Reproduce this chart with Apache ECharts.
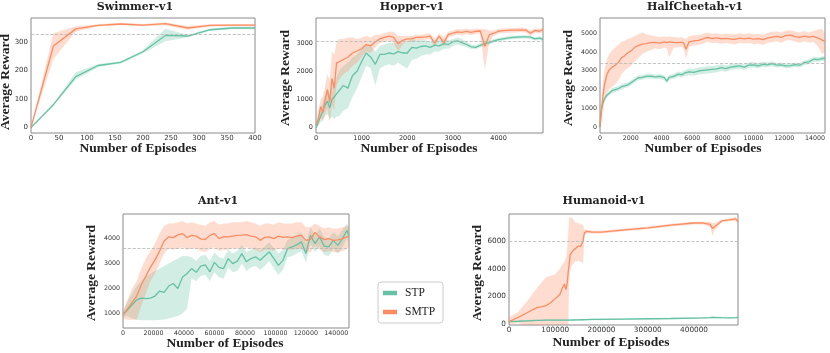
<!DOCTYPE html>
<html>
<head>
<meta charset="utf-8">
<script src="https://cdn.jsdelivr.net/npm/echarts@6/dist/echarts.min.js"></script>
<style>
  html, body { margin: 0; padding: 0; background: #fff; }
  #chart { width: 830px; height: 353px; }
</style>
</head>
<body>
<div id="chart"></div>
<script>
const COLORS = { STP: '#66c2a5', SMTP: '#fc8d62' };
const SERIES_NAMES = ['STP', 'SMTP'];

// Swimmer-v1
const swimmerX = [0, 40, 80, 120, 160, 200, 240, 280, 320, 360, 400];
const swimmerStp = [0, 80, 178, 217, 228, 265, 322, 320, 342, 348, 348];
const swimmerStpLo = [0, 77, 168, 212, 224, 260, 302, 316, 338, 344, 344];
const swimmerStpHi = [0, 83, 193, 222, 232, 270, 345, 324, 346, 352, 352];
const swimmerSmtp = [0, 285, 345, 357, 362, 358, 363, 348, 357, 358, 358];
const swimmerSmtpLo = [0, 240, 336, 353, 358, 354, 358, 342, 353, 354, 354];
const swimmerSmtpHi = [0, 330, 354, 361, 366, 362, 367, 355, 361, 362, 362];
const swimmerRef = 325;
const swimmerXTicks = [0, 50, 100, 150, 200, 250, 300, 350, 400];
const swimmerYTicks = [0, 100, 200, 300];

// Hopper-v1
const hopperX = [0, 50, 100, 150, 200, 250, 300, 350, 400, 450, 500, 600, 700, 800, 900,
  1000, 1100, 1200, 1300, 1400, 1500, 1600, 1700, 1800, 1900, 2000, 2100, 2200, 2300, 2400,
  2500, 2600, 2700, 2800, 2900, 3000, 3100, 3200, 3300, 3400, 3500, 3600, 3700, 3800, 3900,
  4000, 4100, 4200, 4300, 4400, 4500, 4600, 4700, 4800, 4900, 4975];
const hopperStp = [0, 200, 400, 600, 800, 950, 700, 1000, 1100, 1200, 1300, 1500, 1400, 1850, 2000,
  2350, 2650, 2500, 2250, 2600, 2600, 2650, 2620, 2700, 2650, 2650, 2850, 2820, 2880, 2900,
  2850, 2930, 2900, 2980, 2950, 3050, 3080, 3020, 2950, 2870, 2850, 2920, 2980, 3020, 3080,
  3120, 3150, 3180, 3200, 3210, 3220, 3220, 3210, 3150, 3180, 3130];
const hopperStpLo = [0, 50, 200, 300, 400, 500, 300, 400, 300, 400, 400, 600, 700, 1100, 1400,
  1800, 2200, 2100, 1500, 2100, 2200, 2250, 2200, 2300, 2200, 2100, 2400, 2450, 2550, 2600,
  2600, 2700, 2700, 2800, 2800, 2900, 2950, 2900, 2850, 2800, 2780, 2850, 2900, 2950, 3010,
  3060, 3090, 3120, 3140, 3150, 3160, 3160, 3150, 3090, 3120, 3070];
const hopperStpHi = [100, 400, 700, 900, 1200, 1400, 1200, 1500, 1600, 1800, 2000, 2200, 2300, 2500, 2600,
  2800, 2950, 2900, 2700, 2900, 2950, 3000, 3000, 3050, 3000, 3050, 3150, 3100, 3100, 3100,
  3050, 3100, 3100, 3150, 3100, 3150, 3200, 3150, 3050, 2950, 2920, 3000, 3050, 3100, 3150,
  3180, 3210, 3240, 3260, 3270, 3280, 3280, 3270, 3210, 3240, 3190];
const hopperSmtp = [100, 300, 750, 550, 1000, 1350, 900, 1750, 1400, 2300, 2330, 2420, 2500, 2650, 2720,
  2800, 2950, 2900, 3050, 3150, 3200, 3250, 3200, 2980, 3100, 3150, 3150, 3200, 3200, 3220,
  3250, 3000, 3250, 3020, 3300, 3350, 3400, 3380, 3420, 3380, 3420, 3430, 2880, 3300, 3350,
  3420, 3440, 3450, 3460, 3460, 3470, 3460, 3350, 3450, 3420, 3480];
const hopperSmtpLo = [0, 100, 400, 200, 500, 700, 200, 800, 600, 1500, 1700, 1900, 2000, 2200, 2300,
  2500, 2700, 2650, 2850, 3000, 3050, 3100, 3000, 2700, 2950, 3050, 3050, 3100, 3100, 3120,
  3150, 2850, 3150, 2850, 3200, 3250, 3300, 3280, 3320, 3280, 3320, 3350, 2050, 3050, 3250,
  3340, 3360, 3370, 3380, 3380, 3390, 3380, 3250, 3370, 3340, 3400];
const hopperSmtpHi = [200, 600, 1000, 1100, 1500, 1900, 1700, 2700, 2600, 3000, 3150, 3150, 3200, 3200, 3150,
  3200, 3250, 3200, 3300, 3300, 3350, 3400, 3400, 3250, 3250, 3250, 3250, 3300, 3300, 3320,
  3350, 3150, 3350, 3200, 3400, 3450, 3500, 3480, 3520, 3480, 3520, 3500, 3500, 3450, 3450,
  3500, 3520, 3530, 3540, 3540, 3550, 3540, 3450, 3530, 3500, 3560];
const hopperRef = 3070;
const hopperXTicks = [0, 1000, 2000, 3000, 4000];
const hopperYTicks = [0, 1000, 2000, 3000];

// HalfCheetah-v1
const cheetahX = [0, 50, 100, 200, 300, 450, 600, 800, 1000, 1200,
  1400, 1600, 1800, 2000, 2250, 2500, 2750, 3000, 3300, 3600,
  3900, 4200, 4350, 4500, 4800, 5100, 5300, 5450, 5600, 5800,
  6100, 6400, 6700, 7000, 7300, 7600, 7900, 8200, 8500, 8800,
  9100, 9400, 9700, 10000, 10300, 10600, 10900, 11200, 11500, 11800,
  12100, 12400, 12700, 13000, 13300, 13600, 13900, 14200, 14450, 14650];
const cheetahStp = [0, 700, 1000, 1300, 1500, 1700, 1800, 1950, 2000, 2050,
  2150, 2200, 2250, 2350, 2500, 2630, 2650, 2700, 2720, 2680,
  2700, 2630, 2450, 2650, 2700, 2820, 2780, 2850, 2900, 2940,
  2920, 2990, 3020, 3050, 3080, 3100, 3170, 3120, 3200, 3230,
  3260, 3200, 3300, 3320, 3270, 3350, 3320, 3380, 3300, 3320,
  3260, 3280, 3330, 3300, 3440, 3480, 3620, 3600, 3650, 3670];
const cheetahStpLo = [0, 500, 850, 1150, 1380, 1580, 1680, 1820, 1870, 1920,
  2020, 2070, 2120, 2220, 2370, 2500, 2520, 2570, 2590, 2550,
  2570, 2500, 2320, 2520, 2570, 2680, 2640, 2700, 2730, 2760,
  2740, 2800, 2830, 2860, 2890, 2920, 2990, 2950, 3040, 3080,
  3110, 3060, 3160, 3180, 3140, 3220, 3190, 3250, 3180, 3200,
  3140, 3160, 3210, 3180, 3310, 3350, 3490, 3470, 3520, 3540];
const cheetahStpHi = [0, 900, 1150, 1450, 1620, 1820, 1920, 2080, 2130, 2180,
  2280, 2330, 2380, 2480, 2630, 2760, 2780, 2830, 2850, 2810,
  2830, 2760, 2580, 2780, 2830, 2960, 2920, 3000, 3070, 3120,
  3100, 3180, 3210, 3240, 3270, 3280, 3350, 3290, 3360, 3380,
  3410, 3340, 3440, 3460, 3400, 3480, 3450, 3510, 3420, 3440,
  3380, 3400, 3450, 3420, 3570, 3610, 3750, 3730, 3780, 3800];
const cheetahSmtp = [0, 500, 900, 1700, 2300, 2800, 3050, 3200, 3300, 3450,
  3700, 3800, 3950, 4050, 4250, 4350, 4430, 4450, 4500, 4520,
  4480, 4550, 4500, 4550, 4520, 4500, 4530, 4480, 4150, 4550,
  4600, 4620, 4700, 4790, 4720, 4760, 4700, 4730, 4700, 4680,
  4750, 4710, 4740, 4690, 4720, 4660, 4750, 4800, 4840, 4780,
  4890, 4910, 4820, 4790, 4850, 4800, 4840, 4750, 4650, 4550];
const cheetahSmtpLo = [0, 100, 300, 800, 1400, 1800, 2000, 2150, 2300, 2500,
  2800, 3000, 3150, 3250, 3500, 3700, 3900, 4000, 4100, 4200,
  4150, 4250, 4200, 3700, 4250, 4250, 4280, 4200, 3600, 4300,
  4350, 4380, 4450, 4550, 4480, 4500, 4450, 4480, 4450, 4400,
  4500, 4460, 4480, 4420, 4460, 4380, 4480, 4530, 4580, 4500,
  4620, 4650, 4550, 4500, 4580, 4500, 4550, 4300, 3900, 4000];
const cheetahSmtpHi = [0, 900, 1500, 2500, 3100, 3600, 3900, 4100, 4250, 4400,
  4550, 4600, 4700, 4750, 4850, 4950, 5050, 4950, 4900, 4850,
  4800, 4850, 4800, 4850, 4800, 4780, 4800, 4750, 4700, 4850,
  4900, 4900, 4980, 5050, 4980, 5000, 4950, 4980, 4960, 4950,
  5000, 4960, 5000, 4950, 4980, 4920, 5020, 5080, 5100, 5050,
  5150, 5170, 5100, 5050, 5120, 5050, 5120, 5200, 5250, 5000];
const cheetahRef = 3420;
const cheetahXTicks = [0, 2000, 4000, 6000, 8000, 10000, 12000, 14000];
const cheetahYTicks = [0, 1000, 2000, 3000, 4000, 5000];

// Ant-v1
const antX = [0, 3000, 6000, 9000, 12000, 15000, 18000, 21000, 24000, 27000,
  30000, 33000, 36000, 39000, 42000, 45000, 48000, 51000, 54000, 57000,
  60000, 63000, 66000, 69000, 72000, 75000, 78000, 81000, 84000, 87000,
  90000, 93000, 96000, 99000, 102000, 105000, 108000, 111000, 114000, 117000,
  120000, 123000, 126000, 129000, 132000, 135000, 138000, 141000, 144000, 147000, 148300];
const antStp = [950, 1150, 1350, 1550, 1620, 1600, 1620, 1700, 1900, 1850,
  2100, 2200, 2000, 2450, 2600, 2800, 2650, 2900, 2950, 2670,
  3050, 2850, 2800, 3200, 3000, 3100, 3400, 3070, 3200, 3270,
  3130, 3300, 3470, 3200, 2930, 3130, 3600, 3670, 3750, 3870,
  3400, 4130, 3800, 4070, 3700, 3670, 3930, 3730, 4000, 4330, 4100];
const antStpLo = [850, 900, 800, 750, 730, 730, 730, 730, 740, 760,
  800, 850, 900, 1000, 1200, 2400, 2300, 2500, 2550, 2300,
  2650, 2450, 2400, 2850, 2650, 2700, 3000, 2700, 2850, 2900,
  2750, 2900, 3100, 2800, 2550, 2750, 3250, 3300, 3400, 3500,
  3050, 3800, 3450, 3700, 3350, 3300, 3600, 3400, 3650, 4000, 3800];
const antStpHi = [1050, 1500, 1800, 2100, 2300, 2500, 2600, 2700, 2800, 2900,
  3000, 3100, 3200, 3300, 3300, 3250, 3100, 3300, 3350, 3100,
  3450, 3250, 3200, 3550, 3400, 3500, 3750, 3450, 3550, 3650,
  3500, 3700, 3850, 3600, 3400, 3550, 3950, 4050, 4150, 4250,
  3800, 4450, 4150, 4400, 4050, 4000, 4250, 4100, 4350, 4600, 4400];
const antSmtp = [950, 1200, 1450, 1700, 2150, 2500, 2850, 3150, 3500, 3900,
  4070, 4040, 4150, 4200, 4040, 4130, 4100, 3990, 3960, 4130,
  4200, 4000, 4080, 4070, 4100, 4130, 4140, 4160, 4100, 4070,
  3930, 4050, 4070, 4000, 4100, 4050, 4070, 4040, 4100, 4130,
  3930, 3970, 4250, 4070, 3960, 4000, 3930, 3950, 4000, 4070, 4100];
const antSmtpLo = [800, 750, 750, 750, 1300, 1800, 2300, 2600, 3000, 3400,
  3600, 3550, 3600, 3650, 3550, 3600, 3600, 3500, 3450, 3600,
  3650, 3500, 3550, 3550, 3600, 3600, 3600, 3650, 3600, 3550,
  3450, 3550, 3550, 3500, 3600, 3550, 3550, 3550, 3600, 3600,
  3450, 3450, 3700, 3550, 3450, 3500, 3450, 3450, 3500, 3600, 3650];
const antSmtpHi = [1100, 1550, 2000, 2300, 2800, 3200, 3500, 3800, 4200, 4500,
  4600, 4600, 4650, 4700, 4600, 4650, 4600, 4550, 4500, 4650,
  4700, 4550, 4600, 4600, 4650, 4650, 4650, 4700, 4650, 4600,
  4500, 4600, 4600, 4550, 4650, 4600, 4600, 4600, 4650, 4650,
  4450, 4450, 4600, 4500, 4400, 4450, 4400, 4400, 4450, 4500, 4500];
const antRef = 3600;
const antXTicks = [0, 20000, 40000, 60000, 80000, 100000, 120000, 140000];
const antYTicks = [1000, 2000, 3000, 4000];

// Humanoid-v1
const humanoidX = [0, 20000, 40000, 60000, 70000, 80000, 90000, 100000, 110000, 115000, 120000, 123000, 126000, 128000, 130000,
  132000, 135000, 138000, 142000, 145000, 150000, 155000, 160000, 163000, 168000, 180000, 200000, 250000, 300000, 350000,
  400000, 420000, 435000, 440000, 445000, 460000, 480000, 490000, 495000];
const humanoidStp = [200, 220, 250, 280, 290, 300, 300, 300, 300, 300, 300, 300, 300, 300, 300,
  300, 310, 310, 320, 320, 320, 330, 330, 330, 340, 350, 360, 380, 400, 420,
  450, 460, 480, 500, 490, 480, 470, 480, 500];
const humanoidStpLo = [150, 170, 190, 220, 230, 240, 240, 240, 240, 240, 240, 240, 240, 240, 240,
  240, 250, 250, 260, 260, 260, 270, 270, 270, 280, 290, 300, 320, 340, 360,
  390, 400, 410, 430, 420, 410, 410, 420, 440];
const humanoidStpHi = [250, 270, 310, 340, 350, 360, 360, 360, 360, 360, 360, 360, 360, 360, 360,
  360, 370, 370, 380, 380, 380, 390, 390, 390, 400, 410, 420, 440, 460, 480,
  510, 520, 550, 580, 560, 550, 530, 540, 560];
const humanoidSmtp = [200, 500, 850, 1200, 1250, 1350, 1550, 1850, 2150, 2600, 2900, 2500, 3000, 3800, 4300,
  5000, 5100, 5300, 5300, 5500, 5650, 5600, 6000, 6600, 6700, 6650, 6650, 6800, 6950, 7150,
  7300, 7300, 7200, 6900, 7050, 7450, 7550, 7600, 7400];
const humanoidSmtpLo = [0, 100, -200, -300, -300, -300, -300, -300, -300, -300, -300, -300, -300, -300, 3000,
  3800, 4200, 4300, 4500, 4500, 4600, 4500, 4400, 6400, 6550, 6550, 6550, 6700, 6850, 7050,
  7200, 7200, 7000, 6400, 6800, 7350, 7450, 7450, 7250];
const humanoidSmtpHi = [500, 900, 1700, 2600, 3000, 3400, 3500, 3600, 4000, 4300, 4500, 4800, 5500, 6500, 7700,
  7700, 7700, 7600, 7400, 7300, 7300, 7200, 7200, 6800, 6850, 6750, 6750, 6900, 7050, 7250,
  7400, 7400, 7400, 7300, 7300, 7550, 7650, 7750, 7550];
const humanoidRef = 6000;
const humanoidXTicks = [0, 100000, 200000, 300000, 400000];
const humanoidYTicks = [0, 2000, 4000, 6000];

const envs = [
  { title: 'Swimmer-v1', x: swimmerX, stp: [swimmerStp, swimmerStpLo, swimmerStpHi], smtp: [swimmerSmtp, swimmerSmtpLo, swimmerSmtpHi],
    ref: swimmerRef, xTicks: swimmerXTicks, yTicks: swimmerYTicks, xMax: 400, yMin: -19, yMax: 383 },
  { title: 'Hopper-v1', x: hopperX, stp: [hopperStp, hopperStpLo, hopperStpHi], smtp: [hopperSmtp, hopperSmtpLo, hopperSmtpHi],
    ref: hopperRef, xTicks: hopperXTicks, yTicks: hopperYTicks, xMax: 4975, yMin: -185, yMax: 3890 },
  { title: 'HalfCheetah-v1', x: cheetahX, stp: [cheetahStp, cheetahStpLo, cheetahStpHi], smtp: [cheetahSmtp, cheetahSmtpLo, cheetahSmtpHi],
    ref: cheetahRef, xTicks: cheetahXTicks, yTicks: cheetahYTicks, xMax: 14650, yMin: -320, yMax: 5820 },
  { title: 'Ant-v1', x: antX, stp: [antStp, antStpLo, antStpHi], smtp: [antSmtp, antSmtpLo, antSmtpHi],
    ref: antRef, xTicks: antXTicks, yTicks: antYTicks, xMax: 148300, yMin: 420, yMax: 4985 },
  { title: 'Humanoid-v1', x: humanoidX, stp: [humanoidStp, humanoidStpLo, humanoidStpHi], smtp: [humanoidSmtp, humanoidSmtpLo, humanoidSmtpHi],
    ref: humanoidRef, xTicks: humanoidXTicks, yTicks: humanoidYTicks, xMax: 495000, yMin: -50, yMax: 7950 }
];

// layout of each panel: grid box, title / axis-name anchors, tick font size
const layout = [
  { left: 31, top: 18, width: 224, height: 115, title: [135, 7], xName: [138, 149], yName: [6, 82], tick: 7 },
  { left: 316, top: 18, width: 227, height: 115, title: [412, 7], xName: [419, 149], yName: [286, 78], tick: 6.5 },
  { left: 600, top: 18, width: 225, height: 115, title: [695, 7], xName: [703, 149], yName: [569, 78], tick: 6.3 },
  { left: 123, top: 214, width: 226, height: 114, title: [218, 201], xName: [225, 344], yName: [92, 273], tick: 6.3 },
  { left: 509, top: 214, width: 229, height: 111, title: [604, 201], xName: [611, 343], yName: [478, 273], tick: 7.3 }
];

const grids = [], xAxes = [], yAxes = [], series = [], graphics = [];
const plainLabel = v => String(v);

function xy(x, y) {
  return x.map((v, i) => [v, y[i]]);
}

// shaded band between lo and hi, drawn as one polygon through the axes' scales
function bandSeries(gi, name, x, lo, hi) {
  return {
    name: name + ' band', type: 'custom', xAxisIndex: gi, yAxisIndex: gi,
    silent: true, clip: true, z: 1,
    data: x.map((v, i) => [v, lo[i], hi[i]]),
    encode: { x: 0, y: [1, 2] },
    renderItem: function (params, api) {
      if (params.dataIndex !== 0) return null;
      const top = x.map((v, i) => api.coord([v, hi[i]]));
      const bottom = x.map((v, i) => api.coord([v, lo[i]])).reverse();
      return {
        type: 'polygon',
        shape: { points: top.concat(bottom) },
        style: { fill: COLORS[name], opacity: 0.3 }
      };
    }
  };
}

envs.forEach((env, gi) => {
  const L = layout[gi];
  grids.push({
    left: L.left, top: L.top, width: L.width, height: L.height,
    show: true, borderColor: '#8a8a8a', borderWidth: 1, backgroundColor: '#fff',
    containLabel: false, outerBoundsMode: 'none'
  });
  xAxes.push({
    type: 'value', gridIndex: gi, min: 0, max: env.xMax,
    axisLine: { show: false }, axisTick: { show: false }, splitLine: { show: false },
    axisLabel: { customValues: env.xTicks, formatter: plainLabel, fontSize: L.tick, color: '#333',
      fontFamily: 'DejaVu Sans', margin: 2 }
  });
  yAxes.push({
    type: 'value', gridIndex: gi, min: env.yMin, max: env.yMax,
    axisLine: { show: false }, axisTick: { show: false }, splitLine: { show: false },
    axisLabel: { customValues: env.yTicks, formatter: plainLabel, fontSize: L.tick, color: '#333',
      fontFamily: 'DejaVu Sans', margin: 3 }
  });

  SERIES_NAMES.forEach(name => {
    const [, lo, hi] = name === 'STP' ? env.stp : env.smtp;
    series.push(bandSeries(gi, name, env.x, lo, hi));
  });
  SERIES_NAMES.forEach(name => {
    const mean = name === 'STP' ? env.stp[0] : env.smtp[0];
    const s = {
      name, type: 'line', xAxisIndex: gi, yAxisIndex: gi, symbol: 'none', z: 3,
      color: COLORS[name], lineStyle: { width: 1.3, color: COLORS[name] },
      data: xy(env.x, mean)
    };
    if (name === 'SMTP') {
      s.markLine = {
        silent: true, symbol: ['none', 'none'], label: { show: false },
        lineStyle: { type: 'dashed', color: '#b5b5b5', width: 0.8 },
        data: [{ yAxis: env.ref }]
      };
    }
    series.push(s);
  });

  graphics.push({
    type: 'text', x: L.title[0], y: L.title[1],
    style: { text: env.title, align: 'center', verticalAlign: 'middle',
      font: 'bold 11px "DejaVu Serif"', fill: '#222' }
  });
  graphics.push({
    type: 'text', x: L.xName[0], y: L.xName[1],
    style: { text: 'Number of Episodes', align: 'center', verticalAlign: 'middle',
      font: 'bold 13.5px "Liberation Serif"', fill: '#222' }
  });
  graphics.push({
    type: 'text', x: L.yName[0], y: L.yName[1], rotation: Math.PI / 2,
    style: { text: 'Average Reward', align: 'center', verticalAlign: 'middle',
      font: 'bold 13.5px "Liberation Serif"', fill: '#222' }
  });
});

const chart = echarts.init(document.getElementById('chart'), null, { renderer: 'canvas' });
chart.setOption({
  animation: false,
  backgroundColor: '#fff',
  grid: grids,
  xAxis: xAxes,
  yAxis: yAxes,
  series: series,
  graphic: graphics,
  legend: {
    data: SERIES_NAMES,
    orient: 'vertical',
    left: 378, top: 282,
    icon: 'rect', itemWidth: 14, itemHeight: 4.5, itemGap: 7,
    padding: [5, 8, 5, 5],
    borderColor: '#cccccc', borderWidth: 1, borderRadius: 3,
    textStyle: { fontFamily: 'Liberation Serif', fontSize: 11.5, color: '#222', padding: [0, 0, 0, 3] }
  }
});
</script>
</body>
</html>
